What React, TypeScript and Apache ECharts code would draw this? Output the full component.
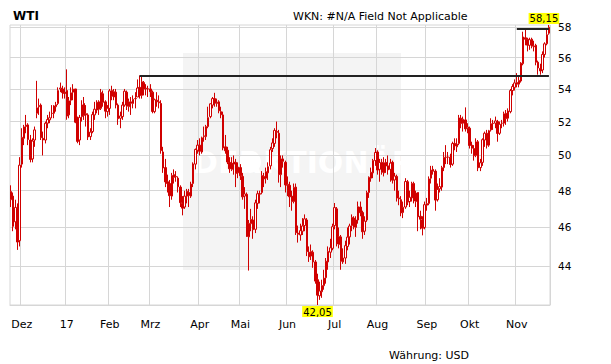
import React, { useEffect, useRef } from 'react';
import * as echarts from 'echarts';

// Trading calendar shown (NYMEX, US holidays skipped)
const FIRST_DAY = '2016-11-23';
const LAST_DAY = '2017-11-22';
const HOLIDAYS = ['2016-11-24', '2016-12-26', '2017-01-02', '2017-01-16', '2017-02-20', '2017-04-14', '2017-05-29', '2017-07-04', '2017-09-04'];

// month tick labels (first trading day of each month)
const monthLabels = ['Dez', '17', 'Feb', 'Mrz', 'Apr', 'Mai', 'Jun', 'Jul', 'Aug', 'Sep', 'Okt', 'Nov'];
const yTicks = [44, 46, 48, 50, 52, 54, 56, 58];

// OHLC, one row per month
const opens = [
  47.5, 47.7, 46.3, 47.0, 45.3,
  49.5, 51.0, 51.7, 51.8, 50.9, 49.8, 50.9, 52.5, 52.9, 53.0, 51.0, 50.9, 51.9, 52.1, 52.5, 52.5, 52.9, 53.1, 54.0, 54.0, 53.8,
  53.9, 52.4, 53.3, 53.8, 54.0, 52.0, 50.9, 52.3, 53.1, 52.4, 52.4, 51.1, 51.4, 52.4, 52.7, 53.2, 52.8, 53.7, 53.2, 52.6,
  52.8, 53.9, 53.5, 53.8, 53.0, 52.2, 52.3, 53.0, 53.8, 52.9, 53.2, 53.1, 53.4, 53.5, 54.1, 53.6, 54.4, 54.0, 54.0,
  54.0, 53.8, 52.6, 53.3, 53.2, 53.1, 50.2, 49.3, 48.5, 48.4, 47.7, 48.9, 48.8, 48.7, 48.2, 47.3, 47.1, 47.7, 47.9, 47.7, 48.4, 49.5, 50.3,
  50.6, 50.2, 51.1, 51.1, 51.7, 52.3, 53.0, 53.4, 53.1, 53.2, 52.6, 52.4, 50.5, 50.3, 49.6, 49.2, 49.5, 49.6, 49.0,
  49.3, 48.8, 47.7, 47.8, 45.5, 46.2, 46.4, 45.9, 47.3, 47.8, 47.9, 48.8, 48.7, 49.0, 49.4, 50.4, 50.7, 51.4, 51.3, 48.9, 49.8, 49.6,
  48.3, 48.3, 47.7, 47.4, 48.2, 45.7, 45.6, 45.8, 46.1, 46.4, 44.7, 44.5, 44.7, 44.2, 43.3, 42.5, 42.7, 43.0, 43.4, 44.2, 44.7, 44.9,
  46.1, 47.0, 45.1, 45.5, 44.2, 44.4, 45.0, 45.5, 46.1, 46.5, 46.0, 46.4, 47.1, 46.8, 45.8, 46.4, 47.9, 48.7, 49.0, 49.7,
  50.2, 49.2, 49.6, 49.0, 49.6, 49.4, 49.2, 49.6, 48.6, 48.8, 47.6, 47.5, 46.8, 47.1, 48.5, 47.4, 47.6, 48.4, 47.4, 47.9, 46.6, 46.4, 46.0,
  47.2, 47.3, 48.7, 49.2, 49.1, 47.5, 48.1, 48.2, 49.3, 49.9, 49.9, 49.9, 49.5, 50.7, 50.5, 50.7, 52.2, 51.9, 52.1, 51.6,
  51.6, 50.6, 50.4, 50.0, 50.8, 49.3, 49.6, 50.9, 51.3, 50.6, 51.5, 51.9, 51.9, 52.0, 51.3, 51.9, 51.9, 52.5, 52.2, 52.6, 53.9, 54.1,
  54.4, 54.3, 54.5, 55.6, 57.3, 57.2, 56.8, 57.2, 56.7, 56.8, 55.7, 55.3, 55.2, 56.2, 56.9, 57.6,
];
const highs = [
  48.3, 47.9, 47.5, 47.3, 49.9,
  51.6, 51.8, 52.4, 51.9, 51.2, 51.0, 51.7, 54.51, 53.4, 53.1, 51.4, 52.0, 52.4, 52.6, 53.0, 53.0, 53.2, 54.1, 54.4, 54.2, 54.1,
  55.24, 53.5, 54.1, 54.3, 54.0, 52.3, 52.4, 53.3, 53.5, 53.0, 52.5, 51.6, 52.6, 53.2, 53.3, 53.3, 54.0, 53.9, 53.3, 53.0,
  54.0, 54.2, 54.0, 54.0, 53.1, 52.6, 53.2, 54.0, 53.9, 53.4, 53.5, 53.6, 53.8, 54.6, 54.85, 54.8, 54.5, 54.3, 54.2,
  54.3, 53.9, 53.4, 53.8, 53.6, 53.3, 50.5, 49.8, 48.9, 48.6, 49.0, 49.2, 49.1, 48.8, 48.3, 47.7, 48.0, 48.1, 48.1, 48.5, 49.6, 50.4, 50.9,
  51.0, 51.1, 51.7, 51.8, 52.9, 53.1, 53.5, 53.76, 53.4, 53.3, 52.9, 52.6, 51.2, 50.5, 49.9, 49.9, 50.0, 49.8, 49.6,
  49.5, 49.0, 48.2, 47.9, 46.4, 47.0, 46.6, 47.5, 48.0, 48.0, 49.1, 49.0, 49.3, 49.6, 50.5, 51.0, 51.6, 52.0, 51.5, 50.0, 50.0, 49.7,
  48.8, 48.5, 48.0, 48.4, 48.4, 46.1, 46.2, 46.5, 46.7, 46.5, 45.0, 45.1, 44.8, 44.3, 43.6, 43.2, 43.3, 43.8, 44.4, 45.0, 45.4, 46.2,
  47.32, 47.1, 46.0, 45.6, 44.9, 45.3, 46.0, 46.2, 46.7, 46.6, 46.6, 47.4, 47.4, 46.9, 46.6, 48.0, 48.8, 49.3, 49.8, 50.43,
  50.3, 49.8, 49.8, 49.9, 49.8, 50.0, 49.8, 49.7, 49.0, 48.9, 48.0, 47.7, 47.4, 48.7, 48.6, 48.0, 48.5, 48.5, 48.0, 47.9, 46.9, 46.6, 47.4,
  47.6, 48.8, 49.4, 49.4, 49.2, 48.4, 48.7, 49.4, 50.2, 50.6, 50.2, 50.1, 50.8, 51.0, 51.0, 52.4, 52.4, 52.3, 52.86, 51.9,
  51.7, 50.8, 50.6, 51.0, 50.9, 49.8, 51.0, 51.4, 51.5, 51.5, 52.2, 52.1, 52.3, 52.1, 52.0, 52.1, 52.6, 52.7, 52.8, 54.0, 54.3, 54.6,
  55.0, 54.8, 55.7, 57.7, 57.9, 57.3, 57.3, 57.3, 57.1, 56.9, 55.8, 55.6, 56.4, 57.0, 57.9, 58.15,
];
const lows = [
  47.1, 45.8, 45.9, 44.82, 45.0,
  49.3, 50.6, 51.3, 50.6, 49.6, 49.6, 50.5, 52.2, 52.4, 50.9, 50.0, 50.7, 51.6, 51.9, 52.2, 52.2, 52.6, 53.0, 53.8, 53.4, 53.4,
  52.11, 52.2, 53.0, 53.3, 51.9, 50.71, 50.6, 52.0, 52.1, 51.7, 50.9, 50.9, 51.3, 52.1, 52.5, 52.4, 52.7, 52.9, 52.2, 52.3,
  52.4, 53.3, 53.3, 52.8, 51.8, 51.6, 52.1, 52.9, 52.7, 52.6, 52.4, 52.8, 52.8, 53.5, 53.4, 53.4, 53.6, 53.6, 53.5,
  53.5, 52.5, 52.5, 52.9, 52.8, 50.1, 49.0, 48.2, 47.9, 47.1, 47.5, 48.4, 48.5, 47.9, 47.1, 46.65, 47.0, 47.3, 47.1, 47.6, 48.2, 49.2, 50.1,
  50.0, 50.1, 50.8, 50.9, 51.6, 52.2, 52.8, 52.9, 52.9, 52.5, 52.2, 50.3, 50.1, 49.5, 49.0, 49.1, 48.9, 48.2, 48.7,
  48.6, 47.5, 47.0, 45.5, 43.76, 45.8, 45.4, 45.7, 47.0, 47.3, 47.8, 48.2, 48.4, 48.6, 49.2, 50.2, 50.5, 51.0, 48.45, 48.2, 49.3, 47.9,
  47.7, 47.1, 46.9, 47.3, 45.6, 45.2, 45.3, 45.6, 45.8, 44.5, 44.2, 44.3, 43.9, 43.1, 42.05, 42.3, 42.4, 42.8, 43.1, 43.8, 44.4, 44.8,
  45.9, 45.0, 44.9, 43.8, 44.1, 44.1, 44.8, 45.1, 45.8, 45.9, 45.5, 46.2, 46.6, 45.4, 45.6, 46.3, 47.6, 48.5, 48.7, 49.4,
  48.9, 48.5, 48.9, 48.8, 49.0, 48.9, 48.5, 48.4, 48.0, 47.4, 47.2, 46.6, 46.5, 47.0, 47.2, 47.1, 47.4, 47.3, 47.1, 45.8, 45.9, 45.58, 45.9,
  46.9, 47.2, 48.4, 48.9, 46.9, 47.4, 47.9, 48.0, 49.1, 49.5, 49.5, 49.3, 49.4, 50.3, 50.2, 50.6, 51.6, 51.4, 51.4, 51.3,
  50.4, 50.1, 49.7, 49.9, 49.1, 49.1, 49.4, 50.5, 50.4, 50.5, 51.4, 51.5, 51.6, 50.8, 51.2, 51.6, 51.7, 51.8, 52.0, 52.5, 53.6, 53.9,
  54.1, 54.1, 54.4, 55.5, 56.8, 56.4, 56.5, 56.6, 56.4, 55.5, 54.9, 54.9, 55.0, 56.0, 56.8, 57.5,
];
const closes = [
  47.96, 46.06, 47.08, 45.23, 49.44,
  51.06, 51.68, 51.79, 50.93, 49.77, 50.84, 51.50, 52.83, 52.98, 51.04, 50.90, 51.90, 52.12, 52.23, 52.49, 52.95, 53.02, 53.90, 54.06, 53.77, 53.72,
  52.33, 53.26, 53.76, 53.99, 51.96, 50.82, 52.25, 53.01, 52.37, 52.48, 51.08, 51.37, 52.42, 52.75, 53.18, 52.75, 53.78, 53.17, 52.63, 52.81,
  53.88, 53.54, 53.83, 53.01, 52.17, 52.34, 53.00, 53.86, 52.93, 53.20, 53.11, 53.36, 53.40, 54.06, 53.59, 54.45, 53.99, 54.05, 54.01,
  53.83, 52.61, 53.33, 53.20, 53.14, 50.28, 49.28, 48.49, 48.40, 47.72, 48.86, 48.75, 48.78, 48.22, 47.34, 47.04, 47.70, 47.97, 47.73, 48.37, 49.51, 50.35, 50.60,
  50.24, 51.03, 51.15, 51.70, 52.24, 53.08, 53.40, 53.11, 53.18, 52.65, 52.41, 50.44, 50.27, 49.62, 49.23, 49.56, 49.62, 48.97, 49.33,
  48.84, 47.66, 47.82, 45.52, 46.22, 46.43, 45.88, 47.33, 47.83, 47.84, 48.85, 48.66, 49.07, 49.35, 50.33, 50.73, 51.47, 51.36, 48.90, 49.80, 49.66, 48.32,
  48.36, 47.66, 47.40, 48.19, 45.72, 45.64, 45.83, 46.08, 46.46, 44.73, 44.46, 44.74, 44.20, 43.23, 42.53, 42.74, 43.01, 43.38, 44.24, 44.74, 44.93, 46.04,
  47.07, 45.13, 45.52, 44.23, 44.40, 45.04, 45.49, 46.08, 46.54, 46.02, 46.40, 47.12, 46.79, 45.77, 46.34, 47.89, 48.75, 49.04, 49.71, 50.17,
  49.16, 49.59, 49.03, 49.58, 49.39, 49.17, 49.56, 48.59, 48.82, 47.59, 47.55, 46.78, 47.09, 48.51, 47.37, 47.64, 48.41, 47.43, 47.87, 46.57, 46.44, 45.96, 47.23,
  47.29, 48.66, 49.16, 49.09, 47.48, 48.07, 48.23, 49.30, 49.89, 49.89, 49.91, 49.48, 50.69, 50.55, 50.66, 52.22, 51.88, 52.14, 51.56, 51.67,
  50.58, 50.42, 49.98, 50.79, 49.29, 49.58, 50.92, 51.30, 50.60, 51.45, 51.87, 51.88, 52.04, 51.29, 51.84, 51.90, 52.47, 52.18, 52.64, 53.90, 54.15, 54.38,
  54.30, 54.54, 55.64, 57.35, 57.20, 56.81, 57.17, 56.74, 56.76, 55.70, 55.33, 55.14, 56.20, 56.90, 57.50, 58.00,
];

// horizontal level lines
const levelValues = [54.85, 57.9];
const levelStarts = ['2017-02-22', '2017-11-01'];

function buildDays(): string[] {
  const out: string[] = [];
  const [y0, m0, d0] = FIRST_DAY.split('-').map(Number);
  const [y1, m1, d1] = LAST_DAY.split('-').map(Number);
  const d = new Date(Date.UTC(y0, m0 - 1, d0));
  const end = Date.UTC(y1, m1 - 1, d1);
  while (d.getTime() <= end) {
    const wd = d.getUTCDay();
    const s = d.toISOString().slice(0, 10);
    if (wd !== 0 && wd !== 6 && HOLIDAYS.indexOf(s) < 0) out.push(s);
    d.setUTCDate(d.getUTCDate() + 1);
  }
  return out;
}

const FONT = '"DejaVu Sans", Verdana, sans-serif';
const RED = '#d00000';
const GRID = '#d6d6d6';

export default function App() {
  const ref = useRef<HTMLDivElement>(null);
  useEffect(() => {
    document.body.style.margin = '0';
    if (!ref.current) return;
    const chart = echarts.init(ref.current, undefined, { renderer: 'svg' });

    const days = buildDays();
    const n = Math.min(days.length, opens.length);
    const cats = days.slice(0, n);
    const data = cats.map((_, i) => [opens[i], closes[i], lows[i], highs[i]]);

    const labelAt: Record<number, string> = {};
    let k = 0;
    for (let i = 1; i < n; i++) {
      if (cats[i].slice(0, 7) !== cats[i - 1].slice(0, 7)) {
        labelAt[i] = monthLabels[k++] ?? '';
      }
    }
    const isMonthStart = (idx: number) => labelAt[idx] !== undefined;
    const fmt = (v: number) => v.toFixed(2).replace('.', ',');

    const last = n - 1;
    const lines = levelValues.map((v, j) => [
      { coord: [Math.max(0, cats.indexOf(levelStarts[j])), v] },
      { coord: [last, v] },
    ]);

    chart.setOption({
      animation: false,
      textStyle: { fontFamily: FONT },
      grid: {
        left: 10, right: 61, top: 25, bottom: 59,
        show: true, borderColor: GRID, borderWidth: 1, backgroundColor: 'transparent',
        containLabel: false, outerBoundsMode: 'none',
      },
      graphic: [
        { type: 'rect', silent: true, z: -10, shape: { x: 183, y: 53, width: 218, height: 217 }, style: { fill: '#f4f4f4' } },
        { type: 'text', silent: true, z: -9, x: 193, y: 162, style: { text: 'DER', fill: '#ffffff', font: 'bold 30px "DejaVu Sans"', verticalAlign: 'middle' } },
        { type: 'circle', silent: true, z: -9, shape: { cx: 250, cy: 162, r: 11 }, style: { fill: '#ffffff' } },
        { type: 'text', silent: true, z: -9, x: 263, y: 162, style: { text: 'KTIONÄR', fill: '#ffffff', font: 'bold 30px "DejaVu Sans"', verticalAlign: 'middle' } },
        { type: 'text', x: 13, y: 16, style: { text: 'WTI', fill: '#000', font: 'bold 12px "DejaVu Sans"', verticalAlign: 'middle' } },
        { type: 'text', x: 293, y: 16.5, style: { text: 'WKN: #N/A Field Not Applicable', fill: '#000', font: '11px "DejaVu Sans"', verticalAlign: 'middle' } },
        { type: 'text', x: 389, y: 355, style: { text: 'Währung: USD', fill: '#000', font: '11px "DejaVu Sans"', verticalAlign: 'middle' } },
      ],
      xAxis: {
        type: 'category',
        data: cats,
        boundaryGap: true,
        axisLine: { show: true, lineStyle: { color: GRID } },
        axisTick: { show: false },
        axisLabel: {
          interval: (idx: number) => isMonthStart(idx),
          formatter: (_v: string, idx: number) => labelAt[idx] ?? '',
          margin: 14, fontSize: 11, color: '#000', fontFamily: FONT,
        },
        splitLine: { show: true, interval: (idx: number) => isMonthStart(idx), lineStyle: { color: GRID, width: 1 } },
      },
      yAxis: {
        type: 'log',
        logBase: 10,
        position: 'right',
        min: 42.05,
        max: 58.15,
        axisLine: { show: false },
        axisTick: { show: false, customValues: yTicks },
        axisLabel: { customValues: yTicks, margin: 8, fontSize: 10.5, color: '#000', fontFamily: FONT, formatter: (v: number) => String(Math.round(v)) },
        splitLine: { show: true, lineStyle: { color: GRID, width: 1 } },
      },
      series: [
        {
          type: 'candlestick',
          data,
          barWidth: 2,
          itemStyle: { color: '#ffffff', color0: RED, borderColor: RED, borderColor0: RED, borderWidth: 1 },
          markLine: {
            silent: true,
            symbol: ['none', 'none'],
            label: { show: false },
            lineStyle: { color: '#222', width: 2, type: 'solid' },
            emphasis: { disabled: true },
            data: lines,
          },
          markPoint: {
            silent: true,
            symbol: 'rect',
            symbolSize: 0.1,
            itemStyle: { color: 'rgba(0,0,0,0)' },
            label: {
              show: true,
              formatter: (p: any) => fmt(Number(p.value)),
              backgroundColor: '#ffff00',
              color: '#000',
              fontSize: 10,
              fontFamily: FONT,
              padding: [1, 1, 0, 1],
              distance: 1,
            },
            data: [
              { type: 'max', valueDim: 'highest', label: { position: 'top', offset: [-5, 0] } },
              { type: 'min', valueDim: 'lowest', label: { position: 'bottom' } },
            ],
          },
        },
      ],
    });
    return () => chart.dispose();
  }, []);
  return <div ref={ref} style={{ width: 611, height: 364 }} />;
}
